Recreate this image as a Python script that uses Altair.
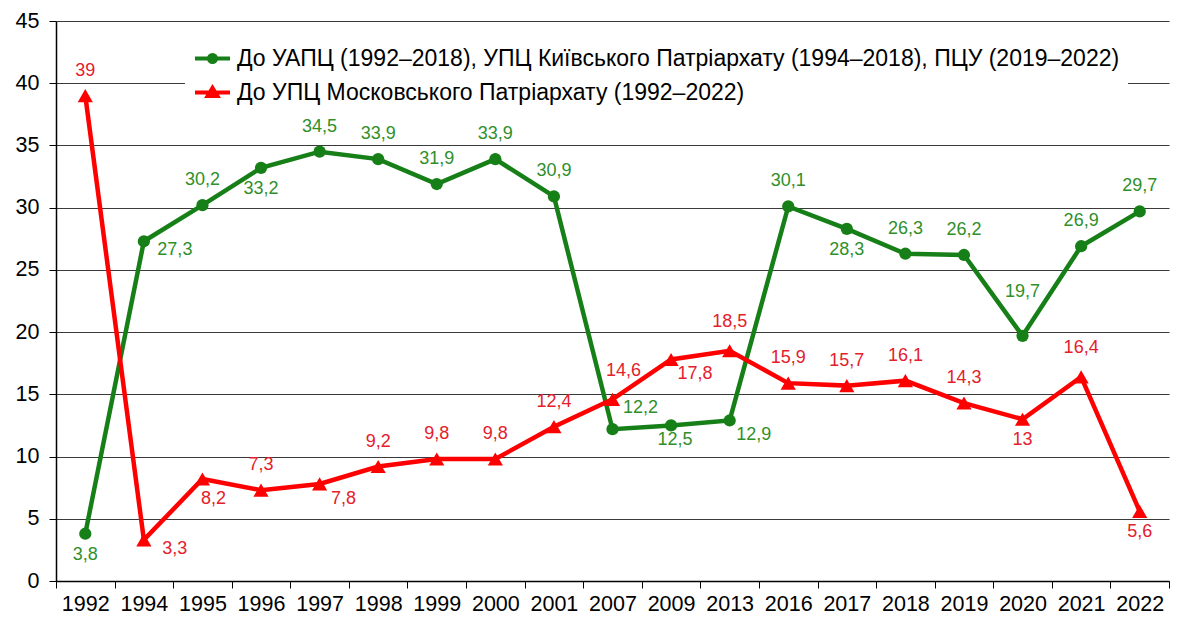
import altair as alt
import pandas as pd

years = ["1992", "1994", "1995", "1996", "1997", "1998", "1999", "2000", "2001",
         "2007", "2009", "2013", "2016", "2017", "2018", "2019", "2020", "2021", "2022"]

green_name = "До УАПЦ (1992–2018), УПЦ Київського Патріархату (1994–2018), ПЦУ (2019–2022)"
red_name = "До УПЦ Московського Патріархату (1992–2022)"

green_values = [3.8, 27.3, 30.2, 33.2, 34.5, 33.9, 31.9, 33.9, 30.9,
                12.2, 12.5, 12.9, 30.1, 28.3, 26.3, 26.2, 19.7, 26.9, 29.7]
red_values = [39, 3.3, 8.2, 7.3, 7.8, 9.2, 9.8, 9.8, 12.4,
              14.6, 17.8, 18.5, 15.9, 15.7, 16.1, 14.3, 13, 16.4, 5.6]

green_label_pos = ["below", "right", "above", "below", "above", "above", "above", "above", "above",
                   "above-right", "below-near", "below-right", "above", "below", "above", "above", "high", "above", "above"]
red_label_pos = ["above", "right", "below-r", "above", "below-right", "above", "above", "above", "above",
                 "above-r", "below-right", "above-far", "above", "above", "above", "above", "below", "above-far", "below"]

def fmt(v):
    s = ("%g" % v)
    return s.replace(".", ",")

rows = []
for y, v, p in zip(years, green_values, green_label_pos):
    rows.append({"year": y, "value": v, "series": green_name, "pos": p, "label": fmt(v)})
for y, v, p in zip(years, red_values, red_label_pos):
    rows.append({"year": y, "value": v, "series": red_name, "pos": p, "label": fmt(v)})
df = pd.DataFrame(rows)

FONT = "Liberation Sans"
GREEN = "#177f17"
RED = "#ff0000"
GREEN_LBL = "#2f8f2a"
RED_LBL = "#e4202c"

base = alt.Chart(df)
x_enc = alt.X("year:N", sort=years, title=None,
              scale=alt.Scale(paddingInner=0, paddingOuter=0),
              axis=alt.Axis(labelAngle=0, tickBand="extent", tickSize=7, tickColor="#000",
                            domainColor="#000", domainWidth=1.5, labelFontSize=21.5,
                            labelFont=FONT, labelColor="#000", labelPadding=5, grid=False))
y_enc = alt.Y("value:Q", title=None,
              scale=alt.Scale(domain=[0, 45], nice=False),
              axis=alt.Axis(values=list(range(0, 46, 5)), tickSize=7, tickColor="#000",
                            domainColor="#000", domainWidth=1.5, labelFontSize=21.5,
                            labelFont=FONT, labelColor="#000", labelPadding=10,
                            grid=True, gridColor="#3a3a3a", gridWidth=1.2))

layers = []
series_info = [(green_name, GREEN, GREEN_LBL, "circle", 150),
               (red_name, RED, RED_LBL, "triangle-up", 230)]

for name, col, lcol, shp, sz in series_info:
    flt = alt.datum.series == name
    layers.append(base.transform_filter(flt).mark_line(color=col, strokeWidth=4.5)
                  .encode(x=x_enc, y=y_enc))

for name, col, lcol, shp, sz in series_info:
    flt = alt.datum.series == name
    layers.append(base.transform_filter(flt)
                  .mark_point(color=col, filled=True, shape=shp, size=sz, opacity=1)
                  .encode(x=x_enc, y=y_enc))

offsets = {
    "above": (0, -25),
    "above-far": (0, -29),
    "below": (0, 21),
    "below-near": (4, 15),
    "right": (31, 9),
    "above-right": (28, -21),
    "above-r": (11, -28),
    "below-right": (24, 15),
    "below-r": (11, 20),
    "high": (0, -44),
}

for name, col, lcol, shp, sz in series_info:
    for pos, (ddx, ddy) in offsets.items():
        flt = (alt.datum.series == name) & (alt.datum.pos == pos)
        layers.append(base.transform_filter(flt)
                      .mark_text(color=lcol, font=FONT, fontSize=18, dx=ddx, dy=ddy,
                                 baseline="middle", align="center")
                      .encode(x=x_enc, y=y_enc, text="label:N"))

# legend layer (invisible marks; drives the legend)
legend_domain = [green_name, red_name]
circle_path = "M-1,0H1M-0.2,0A0.2,0.2,0,1,0,0.2,0A0.2,0.2,0,1,0,-0.2,0Z"
tri_path = "M-1,0H1M-0.28,0.2L0,-0.26L0.28,0.2Z"
legend_layer = base.mark_point(opacity=0, filled=True).encode(
    x=x_enc, y=y_enc,
    fill=alt.Fill("series:N", scale=alt.Scale(domain=legend_domain, range=[GREEN, RED]),
                  legend=alt.Legend(title=None)),
    stroke=alt.Stroke("series:N", scale=alt.Scale(domain=legend_domain, range=[GREEN, RED]),
                      legend=alt.Legend(title=None)),
    shape=alt.Shape("series:N", scale=alt.Scale(domain=legend_domain, range=[circle_path, tri_path]),
                    legend=alt.Legend(title=None)),
)
layers.append(legend_layer)

chart = alt.layer(*layers).properties(
    width=1113, height=560,
    padding={"left": 7, "top": 2, "right": 0, "bottom": 0},
).configure_view(stroke=None).configure_legend(
    orient="none", legendX=129, legendY=10,
    fillColor="white", padding=8, strokeColor=None,
    symbolSize=1225, symbolStrokeWidth=4, symbolOpacity=1,
    labelFont=FONT, labelFontSize=23, labelColor="#000", labelLimit=0,
    labelOffset=5, rowPadding=2, symbolType="circle",
)

chart.save("out.html", embed_options={"renderer": "svg", "actions": False})
